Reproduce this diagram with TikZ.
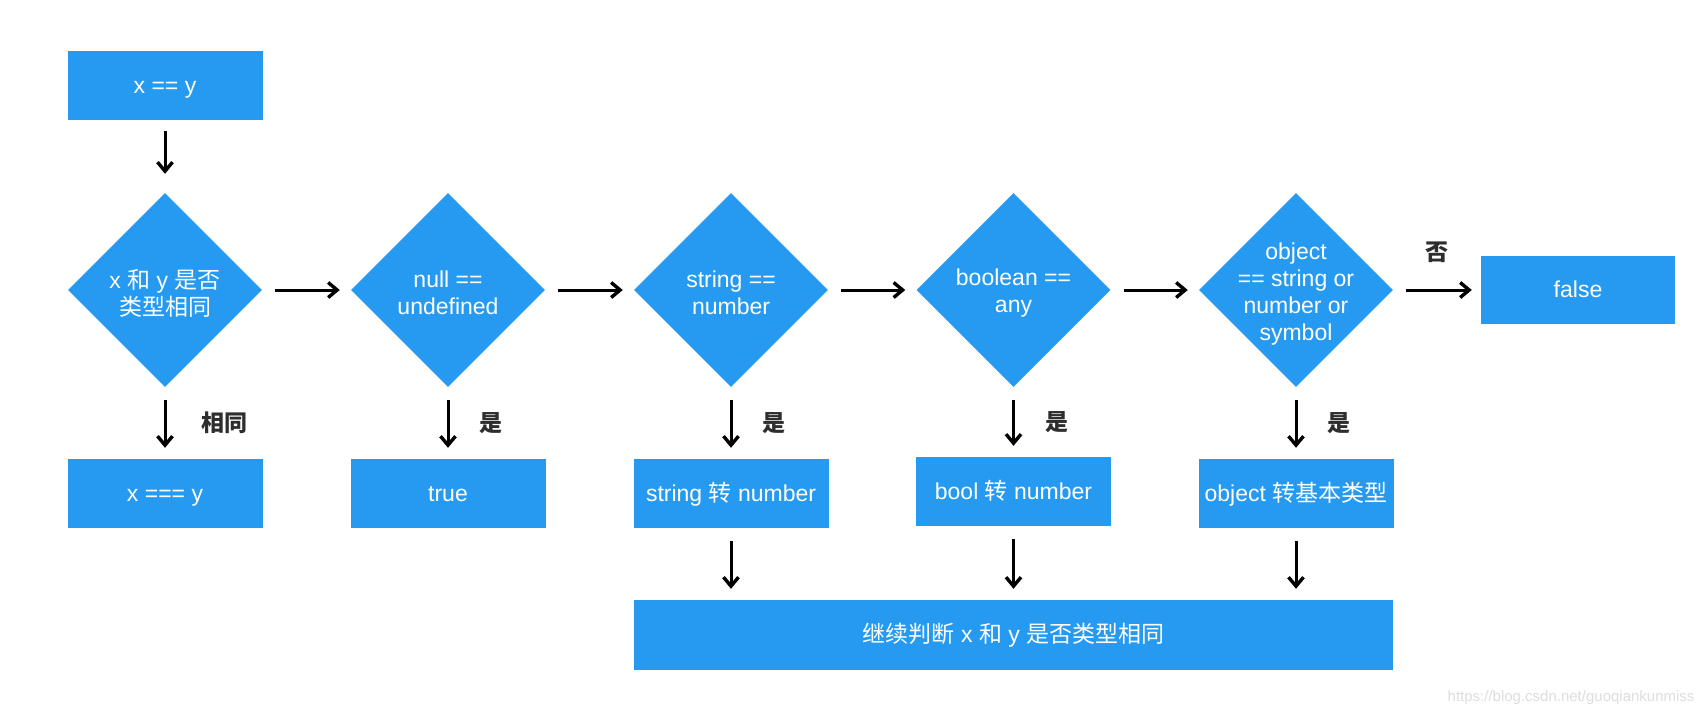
\documentclass[tikz,border=0pt]{standalone}
\usepackage{fontspec}
\setmainfont{Liberation Sans}
\newfontfamily\cjk{Noto Sans CJK SC}
\newcommand{\zh}[1]{{\cjk #1}}
\usetikzlibrary{shapes.geometric,arrows.meta}
\definecolor{flowblue}{RGB}{38,154,240}
\tikzset{
  box/.style={fill=flowblue, minimum width=195pt, minimum height=69pt, inner sep=0pt, text=white, text height=17pt, text depth=2pt, font=\fontsize{23}{27}\selectfont},
  dia/.style={diamond, fill=flowblue, minimum width=194pt, minimum height=194pt, inner sep=0pt},
  dtext/.style={text=white, align=center, inner sep=0pt, font=\fontsize{23}{27}\selectfont},
  arr/.style={-{Straight Barb[length=9pt,width=15pt,line width=3.4pt]}, line width=3pt, shorten <=13pt, shorten >=11pt},
  lbl/.style={font=\fontsize{23}{27}\selectfont\cjk\bfseries, text=black!82, inner sep=0pt},
}
\begin{document}
\begin{tikzpicture}[x=1pt,y=-1pt]
\useasboundingbox (0,0) rectangle (1708,716);
\fill[white] (0,0) rectangle (1708,716);
% top
\node[box] (top) at (165,85.5) {x == y};
% diamonds
\node[dia] (d1) at (165,290) {};
\node[dia] (d2) at (448,290) {};
\node[dia] (d3) at (731,290) {};
\node[dia] (d4) at (1013.5,290) {};
\node[dia] (d5) at (1296,290) {};
\node[dtext] (t1) at ([yshift=-3pt]d1.center) {x \zh{和} y \zh{是否}\\\zh{类型相同}};
\node[dtext] (t2) at ([yshift=-3pt]d2.center) {null ==\\undefined};
\node[dtext] (t3) at ([yshift=-3pt]d3.center) {string ==\\number};
\node[dtext] (t4) at ([yshift=-3pt]d4.center) {boolean ==\\any};
\node[dtext] (t5) at ([yshift=-4pt]d5.center) {object\\== string or\\number or\\symbol};
\node[box, minimum width=194pt, minimum height=68pt] (false) at (1578,290) {false};
% row 2
\node[box] (b1) at (165,493.5) {x === y};
\node[box] (b2) at (448,493.5) {true};
\node[box] (b3) at (731,493.5) {string \zh{转} number};
\node[box] (b4) at (1013.5,491.5) {bool \zh{转} number};
\node[box] (b5) at (1296,493.5) {object \zh{转基本类型}};
% bottom
\node[box, minimum width=759pt, minimum height=70pt] (bottom) at (1013.5,635) {\zh{继续判断} x \zh{和} y \zh{是否类型相同}};
% arrows
\draw[arr, shorten <=11pt, shorten >=19pt] (top) -- (d1);
\draw[arr] (d1) -- (d2);
\draw[arr] (d2) -- (d3);
\draw[arr] (d3) -- (d4);
\draw[arr] (d4) -- (d5);
\draw[arr, shorten >=9pt] (d5) -- node[lbl, above=26pt] (no) {否} (false);
\draw[arr] (d1) -- node[lbl, right=35pt] (same) {相同} (b1);
\draw[arr] (d2) -- node[lbl, right=30pt] (y2) {是} (b2);
\draw[arr] (d3) -- node[lbl, right=30pt] (y3) {是} (b3);
\draw[arr] (d4) -- node[lbl, right=30pt] (y4) {是} (b4);
\draw[arr] (d5) -- node[lbl, right=30pt] (y5) {是} (b5);
\draw[arr] (b3) -- (bottom.north -| b3);
\draw[arr] (b4) -- (bottom.north -| b4);
\draw[arr] (b5) -- (bottom.north -| b5);
% watermark
\node[font=\fontsize{15}{18}\selectfont, text=black!13, anchor=east] (wm) at (1698,698) {https://blog.csdn.net/guoqiankunmiss};
\end{tikzpicture}
\end{document}
